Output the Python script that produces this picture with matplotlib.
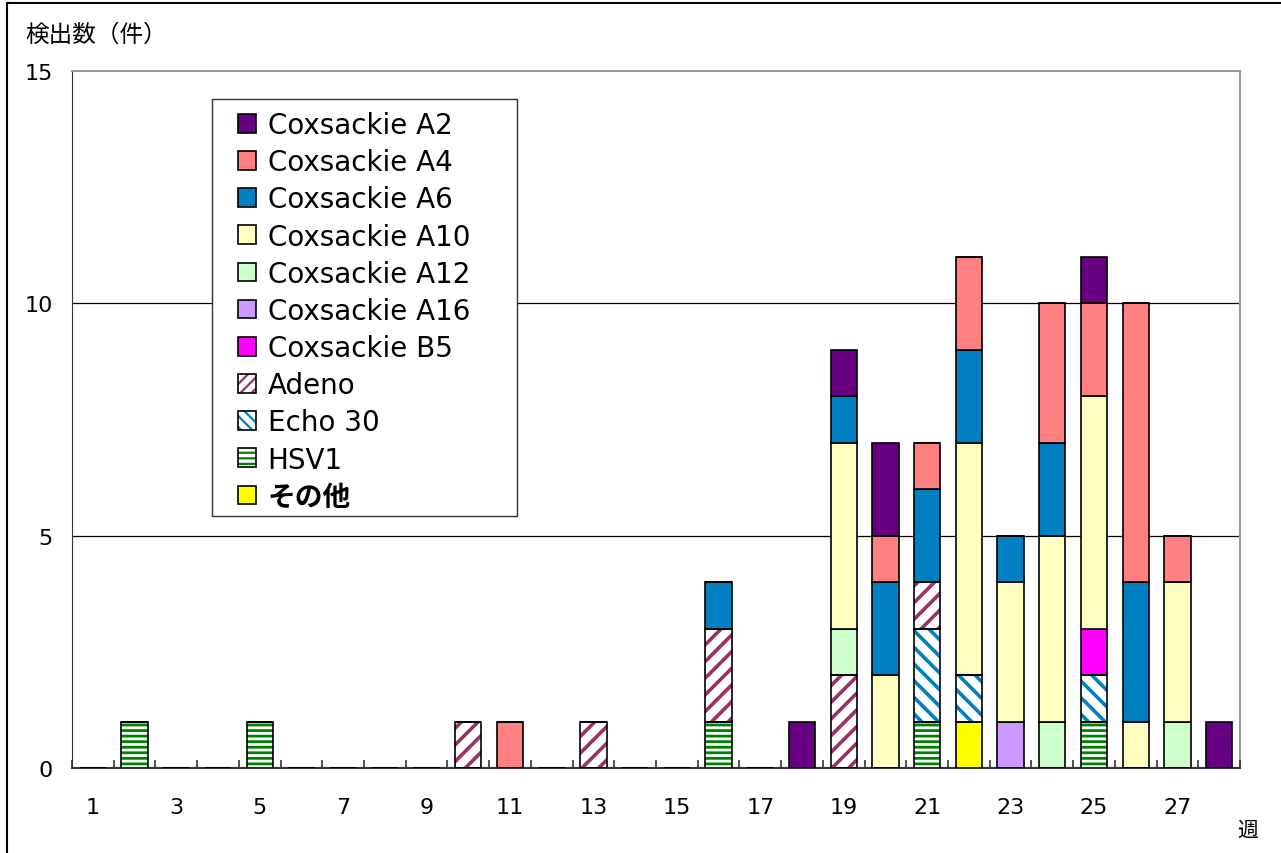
import matplotlib
matplotlib.use('Agg')
import matplotlib.pyplot as plt
import numpy as np
from matplotlib.patches import Patch, Rectangle
from matplotlib.legend_handler import HandlerTuple

plt.rcParams['font.family'] = ['DejaVu Sans', 'Noto Sans CJK JP']

weeks = np.arange(1, 29)

# stacking order, bottom to top
names = ['その他', 'HSV1', 'Echo 30', 'Adeno', 'Coxsackie B5', 'Coxsackie A16',
         'Coxsackie A12', 'Coxsackie A10', 'Coxsackie A6', 'Coxsackie A4', 'Coxsackie A2']

#            1  2  3  4  5  6  7  8  9 10 11 12 13 14 15 16 17 18 19 20 21 22 23 24 25 26 27 28
other  = [0, 0, 0, 0, 0, 0, 0, 0, 0, 0, 0, 0, 0, 0, 0, 0, 0, 0, 0, 0, 0, 1, 0, 0, 0, 0, 0, 0]
hsv1   = [0, 1, 0, 0, 1, 0, 0, 0, 0, 0, 0, 0, 0, 0, 0, 1, 0, 0, 0, 0, 1, 0, 0, 0, 1, 0, 0, 0]
echo30 = [0, 0, 0, 0, 0, 0, 0, 0, 0, 0, 0, 0, 0, 0, 0, 0, 0, 0, 0, 0, 2, 1, 0, 0, 1, 0, 0, 0]
adeno  = [0, 0, 0, 0, 0, 0, 0, 0, 0, 1, 0, 0, 1, 0, 0, 2, 0, 0, 2, 0, 1, 0, 0, 0, 0, 0, 0, 0]
cb5    = [0, 0, 0, 0, 0, 0, 0, 0, 0, 0, 0, 0, 0, 0, 0, 0, 0, 0, 0, 0, 0, 0, 0, 0, 1, 0, 0, 0]
ca16   = [0, 0, 0, 0, 0, 0, 0, 0, 0, 0, 0, 0, 0, 0, 0, 0, 0, 0, 0, 0, 0, 0, 1, 0, 0, 0, 0, 0]
ca12   = [0, 0, 0, 0, 0, 0, 0, 0, 0, 0, 0, 0, 0, 0, 0, 0, 0, 0, 1, 0, 0, 0, 0, 1, 0, 0, 1, 0]
ca10   = [0, 0, 0, 0, 0, 0, 0, 0, 0, 0, 0, 0, 0, 0, 0, 0, 0, 0, 4, 2, 0, 5, 3, 4, 5, 1, 3, 0]
ca6    = [0, 0, 0, 0, 0, 0, 0, 0, 0, 0, 0, 0, 0, 0, 0, 1, 0, 0, 1, 2, 2, 2, 1, 2, 0, 3, 0, 0]
ca4    = [0, 0, 0, 0, 0, 0, 0, 0, 0, 0, 1, 0, 0, 0, 0, 0, 0, 0, 0, 1, 1, 2, 0, 3, 2, 6, 1, 0]
ca2    = [0, 0, 0, 0, 0, 0, 0, 0, 0, 0, 0, 0, 0, 0, 0, 0, 0, 1, 1, 2, 0, 0, 0, 0, 1, 0, 0, 1]

series = [other, hsv1, echo30, adeno, cb5, ca16, ca12, ca10, ca6, ca4, ca2]
fills = ['#FFFF00', 'white', 'white', 'white', '#FF00FF', '#CC99FF',
         '#CCFFCC', '#FFFFC0', '#0080C0', '#FF8080', '#660080']
hatches = [None, '---', '\\\\', '//', None, None, None, None, None, None, None]
hatch_cols = [None, '#008000', '#0080C0', '#993366', None, None, None, None, None, None, None]
hatch_lws = [None, 2.0, 2.6, 2.6, None, None, None, None, None, None, None]

fig = plt.figure(figsize=(12.81, 8.54), dpi=100)
ax = fig.add_axes([72/1281, 1-769/854, (1240-72)/1281, (769-72)/854])

w = 0.63
bottom = np.zeros(len(weeks))
handles = []
for name, vals, fc, h, hc, hlw in zip(names, series, fills, hatches, hatch_cols, hatch_lws):
    vals = np.array(vals, dtype=float)
    if h:
        with plt.rc_context({'hatch.linewidth': hlw}):
            ax.bar(weeks, vals, w, bottom=bottom, color=fc, edgecolor=hc, hatch=h,
                   linewidth=0, zorder=3)
        hp = Patch(facecolor=fc, edgecolor=hc, hatch=h[0] * 3, linewidth=0)
        ax.bar(weeks, vals, w, bottom=bottom, fill=False, edgecolor='black',
               linewidth=1.2, zorder=4)
        handles.append((hp, Patch(fill=False, edgecolor='black', linewidth=1.2)))
    else:
        ax.bar(weeks, vals, w, bottom=bottom, color=fc, edgecolor='black',
               linewidth=1.2, zorder=3)
        handles.append(Patch(facecolor=fc, edgecolor='black', linewidth=1.2))
    bottom += vals

ax.set_xlim(0.5, 28.5)
ax.set_ylim(0, 15)
ax.set_yticks([0, 5, 10, 15])
ax.set_xticks(np.arange(1, 29, 2))
ax.tick_params(axis='y', length=0, pad=14, labelsize=16)
ax.tick_params(axis='x', which='major', length=0, pad=21, labelsize=16)
# small category separators pointing up from the baseline
bounds = np.append(weeks - 0.5, weeks[-1] + 0.5)
ax.vlines(bounds, 0, 8/697, transform=ax.get_xaxis_transform(), color='#333333',
          linewidth=1.2, zorder=2.6, clip_on=False)
for yv in [5, 10]:
    ax.axhline(yv, color='black', linewidth=0.9, zorder=1)
ax.spines['top'].set_color('#999999')
ax.spines['right'].set_color('#999999')
ax.spines['top'].set_linewidth(1.5)
ax.spines['right'].set_linewidth(1.5)
ax.spines['left'].set_color('#333333')
ax.spines['bottom'].set_color('#333333')
ax.spines['bottom'].set_linewidth(1.5)

plt.rcParams['hatch.linewidth'] = 1.6
leg = ax.legend(handles[::-1], names[::-1], loc='upper left',
                bbox_to_anchor=(166/1168, 657/697), borderaxespad=0,
                fontsize=20, frameon=False,
                handlelength=0.65, handleheight=0.65, handletextpad=0.42,
                labelspacing=0.33, borderpad=0,
                handler_map={tuple: HandlerTuple(ndivide=1, pad=0)})
leg.set_zorder(6)
for t in leg.get_texts():
    if t.get_text() == 'その他':
        t.set_family(['Noto Sans CJK JP'])
        t.set_fontweight('bold')

# legend frame
ax.add_patch(Rectangle((212, 854 - 517), 305, 417, transform=None, facecolor='white',
                       edgecolor='#333333', linewidth=1.0, zorder=5))

fig.text(25/1281, 1-35/854, '検出数（件）', fontsize=17, va='center', ha='left',
         family=['Noto Sans CJK JP'])
fig.text(1248/1281, 1-831/854, '週', fontsize=15, va='center', ha='center',
         family=['Noto Sans CJK JP'])

fig.patches.append(Rectangle((7/1281, -0.05), 1.1, 1-4/854+0.05,
                             transform=fig.transFigure, fill=False,
                             edgecolor='black', linewidth=1.5))

plt.savefig('out.png', dpi=100)
